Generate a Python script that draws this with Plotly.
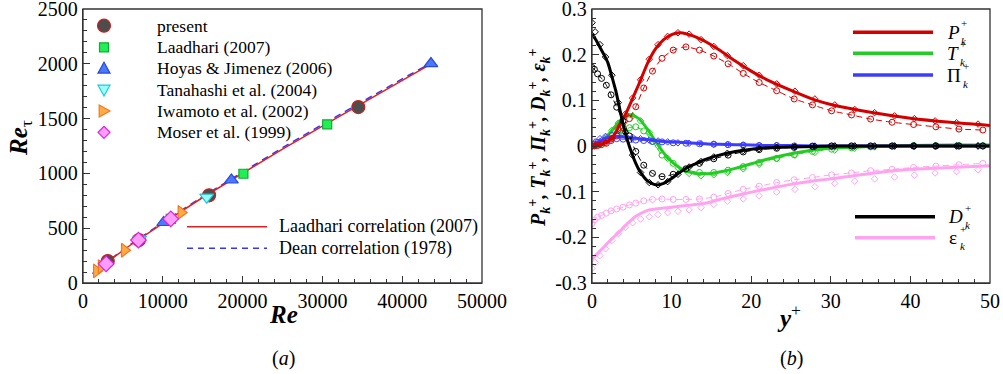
import plotly.graph_objects as go

W, H = 1003, 374
FONT = "Liberation Serif, Times New Roman, DejaVu Serif, serif"

# ---------------- Panel (a) data ----------------
re_present = [3100, 7000, 15800, 34500]
ret_present = [200, 392, 800, 1605]
re_laadhari = [11000, 20100, 30600]
ret_laadhari = [585, 997, 1448]
re_hoyas = [10100, 18600, 43600]
ret_hoyas = [552, 940, 2002]
re_tanahashi = [7100, 15500]
ret_tanahashi = [400, 783]
re_iwamoto = [1700, 2300, 5200, 12300]
ret_iwamoto = [110, 150, 299, 644]
re_moser = [2900, 6950, 11000]
ret_moser = [175, 392, 585]
re_corr = [1200, 3000, 6000, 10000, 15000, 20000, 25000, 30000, 35000, 40000, 43300]
ret_laadhari_corr = [84, 190, 349, 545, 780, 1005, 1222, 1432, 1639, 1843, 1985]
ret_dean_corr = [87, 193, 354, 553, 789, 1015, 1234, 1447, 1656, 1862, 1995]

# ---------------- Panel (b) data ----------------
# solid lines (present)
ys = [0, 0.5, 1, 1.5, 2, 2.5, 3, 3.5, 4, 4.5, 5, 5.5, 6, 7, 8, 9, 10, 11, 12, 13, 14, 15, 16,
      18, 20, 22, 25, 28, 30, 35, 40, 45, 50]
P_s = [0, 0.0005, 0.002, 0.005, 0.01, 0.018, 0.03, 0.048, 0.062, 0.08, 0.1, 0.12, 0.14, 0.182,
       0.213, 0.233, 0.244, 0.248, 0.245, 0.239, 0.231, 0.221, 0.21, 0.186, 0.164, 0.145, 0.122,
       0.101, 0.091, 0.074, 0.061, 0.052, 0.045]
T_s = [0, 0.003, 0.008, 0.015, 0.024, 0.034, 0.045, 0.055, 0.063, 0.068, 0.068, 0.064, 0.058,
       0.036, 0.01, -0.015, -0.034, -0.048, -0.056, -0.06, -0.061, -0.06, -0.057, -0.049, -0.039,
       -0.029, -0.017, -0.008, -0.005, -0.001, 0.001, 0.002, 0.002]
Pi_s = [0, 0.006, 0.011, 0.015, 0.018, 0.02, 0.021, 0.021, 0.02, 0.019, 0.018, 0.017, 0.016,
        0.014, 0.012, 0.01, 0.009, 0.008, 0.007, 0.006, 0.005, 0.004, 0.004, 0.003, 0.002, 0.001,
        0.001, 0, 0, 0, 0, 0, 0]
D_s = [0.245, 0.232, 0.216, 0.2, 0.182, 0.152, 0.12, 0.08, 0.04, 0.01, -0.016, -0.038, -0.055,
       -0.077, -0.085, -0.082, -0.071, -0.058, -0.047, -0.039, -0.031, -0.025, -0.02, -0.012,
       -0.007, -0.004, -0.002, -0.001, 0, 0, 0, 0, 0]
E_s = [-0.248, -0.239, -0.23, -0.221, -0.212, -0.203, -0.195, -0.187, -0.178, -0.169, -0.161,
       -0.154, -0.149, -0.141, -0.138, -0.136, -0.134, -0.132, -0.13, -0.128, -0.126, -0.122,
       -0.117, -0.109, -0.101, -0.094, -0.084, -0.076, -0.072, -0.06, -0.051, -0.047, -0.043]

# diamonds
yd = [0, 0.4, 1, 1.7, 2.5, 3.3, 4.2, 5.1, 6.1, 7.2, 8.3, 9.5, 10.8, 12.2, 13.7, 15.3, 17.0, 19.0,
      21.0, 23.2, 25.5, 28.0, 30.5, 33.0, 35.5, 38.0, 40.5, 43.1, 45.8, 48.5]
P_d = [0, 0.001, 0.003, 0.007, 0.017, 0.038, 0.07, 0.105, 0.145, 0.19, 0.222, 0.24, 0.248, 0.245,
       0.233, 0.218, 0.198, 0.176, 0.155, 0.136, 0.12, 0.103, 0.09, 0.08, 0.073, 0.066, 0.06,
       0.055, 0.051, 0.048]
T_d = [0, 0.002, 0.008, 0.018, 0.034, 0.05, 0.064, 0.066, 0.055, 0.03, 0.0, -0.027, -0.048, -0.06,
       -0.065, -0.063, -0.058, -0.05, -0.04, -0.028, -0.02, -0.014, -0.009, -0.005, -0.002, 0,
       0.001, 0.001, 0.001, 0.001]
Pi_d = [0, 0.009, 0.016, 0.021, 0.024, 0.024, 0.022, 0.019, 0.016, 0.013, 0.011, 0.009, 0.007,
        0.006, 0.005, 0.004, 0.003, 0.002, 0.001, 0.001, 0, 0, 0, 0, 0, 0, 0, 0, 0, 0]
D_d = [0.27, 0.25, 0.222, 0.195, 0.155, 0.095, 0.03, -0.02, -0.058, -0.08, -0.085, -0.078, -0.062,
       -0.046, -0.034, -0.024, -0.016, -0.01, -0.006, -0.003, -0.002, -0.001, 0, 0, 0, 0, 0, 0,
       0, 0]
E_d = [-0.268, -0.255, -0.24, -0.225, -0.207, -0.192, -0.178, -0.168, -0.16, -0.155, -0.15,
       -0.146, -0.143, -0.14, -0.135, -0.128, -0.121, -0.116, -0.109, -0.101, -0.095, -0.089,
       -0.082, -0.077, -0.072, -0.068, -0.064, -0.059, -0.056, -0.052]

# circles (dashed)
yc = [0, 0.3, 0.7, 1.2, 1.8, 2.4, 3.1, 3.9, 4.7, 5.5, 6.5, 7.6, 8.8, 10.2, 11.8, 13.5, 15.3, 17.1,
      19.0, 21.0, 23.2, 25.4, 27.7, 30.1, 32.6, 35.0, 37.7, 40.4, 43.2, 46.1, 49.1]
P_c = [0, 0, 0.001, 0.003, 0.006, 0.012, 0.022, 0.04, 0.06, 0.086, 0.127, 0.164, 0.192, 0.21,
       0.217, 0.21, 0.197, 0.18, 0.159, 0.139, 0.121, 0.103, 0.09, 0.077, 0.068, 0.059, 0.052,
       0.047, 0.042, 0.037, 0.035]
T_c = [0, 0.001, 0.003, 0.006, 0.011, 0.017, 0.025, 0.033, 0.04, 0.042, 0.033, 0.01, -0.02,
       -0.038, -0.052, -0.058, -0.058, -0.053, -0.045, -0.036, -0.027, -0.019, -0.012, -0.007,
       -0.004, -0.002, 0, 0.001, 0.001, 0.001, 0.001]
Pi_c = [0, 0.004, 0.008, 0.011, 0.014, 0.015, 0.016, 0.015, 0.014, 0.013, 0.012, 0.01, 0.009,
        0.007, 0.006, 0.005, 0.004, 0.003, 0.002, 0.001, 0.001, 0, 0, 0, 0, 0, 0, 0, 0, 0, 0]
D_c = [0.172, 0.168, 0.158, 0.148, 0.133, 0.112, 0.085, 0.055, 0.022, -0.012, -0.042, -0.06,
       -0.067, -0.062, -0.05, -0.038, -0.028, -0.02, -0.013, -0.008, -0.005, -0.003, -0.001, 0,
       0, 0, 0, 0, 0, 0, 0]
E_c = [-0.17, -0.162, -0.156, -0.152, -0.147, -0.142, -0.138, -0.134, -0.129, -0.125, -0.12,
       -0.117, -0.116, -0.117, -0.117, -0.116, -0.112, -0.104, -0.095, -0.088, -0.08, -0.074,
       -0.069, -0.063, -0.059, -0.054, -0.051, -0.047, -0.044, -0.041, -0.038]

RED, GREEN, BLUE, BLACK, PINK = "#d40000", "#22cc22", "#3c3cff", "#000000", "#ffa3f0"
FRAME = "#333333"

fig = go.Figure()

# ---- Panel (a) traces ----
fig.add_trace(go.Scatter(x=re_corr, y=ret_dean_corr, mode="lines", xaxis="x", yaxis="y",
                         line=dict(color="#3535ff", width=1.5, dash="7px,5px"), showlegend=False))
fig.add_trace(go.Scatter(x=re_corr, y=ret_laadhari_corr, mode="lines", xaxis="x", yaxis="y",
                         line=dict(color="#dd2020", width=1.5), showlegend=False))

sym_a = [
    (re_present, ret_present, "circle", 13, "#4d4d4d", "#cc2020"),
    (re_laadhari, ret_laadhari, "square", 9, "#22ee55", "#11aa33"),
    (re_hoyas, ret_hoyas, "triangle-up", 12, "#4a78ff", "#2a4ad0"),
    (re_tanahashi, ret_tanahashi, "triangle-down", 12, "#99ffff", "#22c8d8"),
    (re_iwamoto, ret_iwamoto, "triangle-right", 12, "#ffaa44", "#ee7a22"),
    (re_moser, ret_moser, "diamond", 12, "#ff9cff", "#dd22dd"),
]
for xs, yv, sym, sz, fc, lc in sym_a:
    fig.add_trace(go.Scatter(x=xs, y=yv, mode="markers", xaxis="x", yaxis="y", showlegend=False,
                             marker=dict(symbol=sym, size=sz, color=fc, line=dict(color=lc, width=1.2))))

# ---- Panel (b) traces ----
groups = [
    (E_s, E_d, E_c, PINK),
    (T_s, T_d, T_c, GREEN),
    (Pi_s, Pi_d, Pi_c, BLUE),
    (P_s, P_d, P_c, RED),
    (D_s, D_d, D_c, BLACK),
]
for s, d, c, col in groups:
    fig.add_trace(go.Scatter(x=yc, y=c, mode="lines+markers", xaxis="x2", yaxis="y2", showlegend=False,
                             line=dict(color=col, width=1, dash="6px,4px", shape="spline", smoothing=0.6),
                             marker=dict(symbol="circle-open", size=6, color=col, line=dict(width=1))))
    fig.add_trace(go.Scatter(x=yd, y=d, mode="markers", xaxis="x2", yaxis="y2", showlegend=False,
                             marker=dict(symbol="diamond-open", size=5, color=col, line=dict(width=1))))
    fig.add_trace(go.Scatter(x=ys, y=s, mode="lines", xaxis="x2", yaxis="y2", showlegend=False,
                             line=dict(color=col, width=3, shape="spline", smoothing=0.6)))

# ---- axes ----
def px_x(x):
    return x / W

def px_y(y):
    return 1 - y / H

ydom = [px_y(283), px_y(9)]
xdom_a = [px_x(83), px_x(482)]
xdom_b = [px_x(592), px_x(990)]
common = dict(showgrid=False, zeroline=False, showline=True, linecolor=FRAME,
              linewidth=1.3, ticks="inside", ticklen=7, tickwidth=1, tickcolor=FRAME,
              automargin=False, ticklabeloverflow="allow",
              tickfont=dict(family=FONT, size=20, color="black"))
mirror_common = dict(showgrid=False, zeroline=False, showline=True, linecolor=FRAME,
                     linewidth=1.3, ticks="inside", ticklen=7, tickwidth=1, tickcolor=FRAME,
                     automargin=False, showticklabels=False)

fig.update_layout(
    template="none",
    width=W, height=H, margin=dict(l=0, r=0, t=0, b=0, pad=0, autoexpand=False),
    paper_bgcolor="white", plot_bgcolor="white", showlegend=False,
    font=dict(family=FONT, color="black"),
    xaxis=dict(domain=xdom_a, range=[0, 50000], dtick=10000, tickformat="d",
               minor=dict(dtick=2000, ticks="inside", ticklen=4, tickcolor=FRAME),
               anchor="y", **common),
    yaxis=dict(domain=ydom, range=[0, 2500], dtick=500,
               minor=dict(dtick=100, ticks="inside", ticklen=4, tickcolor=FRAME),
               anchor="x", **common),
    xaxis2=dict(domain=xdom_b, range=[0, 50], dtick=10,
                minor=dict(dtick=2, ticks="inside", ticklen=4, tickcolor=FRAME),
                anchor="y2", **common),
    yaxis2=dict(domain=ydom, range=[-0.3, 0.3],
                tickvals=[-0.3, -0.2, -0.1, 0, 0.1, 0.2, 0.3],
                ticktext=["-0.3", "-0.2", "-0.1", "0", "0.1", "0.2", "0.3"],
                minor=dict(dtick=0.02, ticks="inside", ticklen=4, tickcolor=FRAME),
                anchor="x2", **common),
    # mirrored frame axes (top / right)
    xaxis3=dict(overlaying="x", matches="x", anchor="y", side="top", dtick=10000,
                minor=dict(dtick=2000, ticks="inside", ticklen=4, tickcolor=FRAME), **mirror_common),
    yaxis3=dict(overlaying="y", matches="y", anchor="x", side="right", dtick=500,
                minor=dict(dtick=100, ticks="inside", ticklen=4, tickcolor=FRAME), **mirror_common),
    xaxis4=dict(overlaying="x2", matches="x2", anchor="y2", side="top", dtick=10,
                minor=dict(dtick=2, ticks="inside", ticklen=4, tickcolor=FRAME), **mirror_common),
    yaxis4=dict(overlaying="y2", matches="y2", anchor="x2", side="right", dtick=0.1,
                minor=dict(dtick=0.02, ticks="inside", ticklen=4, tickcolor=FRAME), **mirror_common),
)

shapes = []
annots = []

# explicit frames
for xr, yr in (("x domain", "y domain"), ("x2 domain", "y2 domain")):
    shapes.append(dict(type="rect", xref=xr, yref=yr, x0=0, x1=1, y0=0, y1=1,
                       line=dict(color=FRAME, width=1.3), fillcolor="rgba(0,0,0,0)", layer="above"))

def legend_line(x0, x1, y, color, width, dash="solid"):
    shapes.append(dict(type="line", xref="paper", yref="paper", x0=px_x(x0), x1=px_x(x1),
                       y0=px_y(y), y1=px_y(y), line=dict(color=color, width=width, dash=dash)))

def label(x, y, text, size, xanchor="left", angle=0, pad=1):
    annots.append(dict(x=px_x(x), y=px_y(y), xref="paper", yref="paper", text=text, showarrow=False,
                       xanchor=xanchor, yanchor="middle", textangle=angle, borderpad=pad,
                       font=dict(family=FONT, size=size, color="black")))

def legend_marker(sym, cx, cy, r, fill, line):
    base = dict(xref="paper", yref="paper", xsizemode="pixel", ysizemode="pixel",
                xanchor=px_x(cx), yanchor=px_y(cy), fillcolor=fill,
                line=dict(color=line, width=1.2), layer="above")
    if sym == "circle":
        base.update(type="circle", x0=-r, x1=r, y0=-r, y1=r)
    elif sym == "square":
        base.update(type="rect", x0=-r, x1=r, y0=-r, y1=r)
    else:
        paths = {
            "triangle-up": f"M{-r},{-0.8*r} L{r},{-0.8*r} L0,{r} Z",
            "triangle-down": f"M{-r},{0.8*r} L{r},{0.8*r} L0,{-r} Z",
            "triangle-right": f"M{-0.8*r},{-r} L{-0.8*r},{r} L{r},0 Z",
            "diamond": f"M0,{-r} L{r},0 L0,{r} L{-r},0 Z",
        }
        base.update(type="path", path=paths[sym])
    shapes.append(base)

# panel (a) marker legend
leg_a = [
    ("circle", 6.5, "#4d4d4d", "#cc2020", "present"),
    ("square", 4.5, "#22ee55", "#11aa33", "Laadhari (2007)"),
    ("triangle-up", 6, "#4a78ff", "#2a4ad0", "Hoyas &amp; Jimenez (2006)"),
    ("triangle-down", 6, "#99ffff", "#22c8d8", "Tanahashi et al. (2004)"),
    ("triangle-right", 6, "#ffaa44", "#ee7a22", "Iwamoto et al. (2002)"),
    ("diamond", 6, "#ff9cff", "#dd22dd", "Moser et al. (1999)"),
]
leg_y = [25.7, 47.3, 68.3, 90, 111, 132.3]
for (sym, r, fc, lc, txt), yy in zip(leg_a, leg_y):
    legend_marker(sym, 104, yy, r, fc, lc)
    label(155, yy, txt, 17.5)

# panel (a) line legend
legend_line(187, 267, 226.7, "#dd2020", 1.5)
label(277, 226.7, "Laadhari correlation (2007)", 18)
legend_line(187, 267, 248.3, "#3535ff", 1.5, "6px,5px")
label(277, 248.3, "Dean correlation (1978)", 18)

# panel (b) legends: symbol with stacked +/k
def stacked(x, y, main, off):
    label(x, y, main, 19, pad=0)
    label(x + off, y - 9, "+", 11, pad=0)
    label(x + off, y + 8.5, "<i>k</i>", 11, pad=0)

legend_line(853, 933, 32.3, RED, 3.5)
stacked(946, 32.3, "<i>P</i>", 14)
legend_line(853, 933, 53.3, GREEN, 3.5)
stacked(946, 53.3, "<i>T</i>", 13)
legend_line(853, 933, 75, BLUE, 3.5)
stacked(946, 75, "Π", 16)
legend_line(855, 935, 216.7, BLACK, 3.5)
stacked(947, 216.7, "<i>D</i>", 17)
legend_line(855, 935, 237.7, PINK, 3.5)
stacked(948, 237.7, "ε", 11)

# axis titles
label(283, 314, "<b><i>Re</i></b>", 25, "center")
label(21, 138, "<b><i>Re</i></b><sub>τ</sub>", 25, "center", -90)
label(789, 316, "<b><i>y</i></b><sup>+</sup>", 25, "center")
label(539, 138, "<b><i>P<sub>k</sub><sup>+</sup>, T<sub>k</sub><sup>+</sup>, "
                "Π<sub>k</sub><sup>+</sup>, D<sub>k</sub><sup>+</sup>, "
                "ε<sub>k</sub><sup>+</sup></i></b>", 20, "center", -90)

# panel captions
label(283, 358, "(<i>a</i>)", 20, "center")
label(791, 358, "(<i>b</i>)", 20, "center")

fig.update_layout(shapes=shapes, annotations=annots)
fig.write_html("out.html", config={"displayModeBar": False},
               post_script="document.body.style.margin='0px';")
